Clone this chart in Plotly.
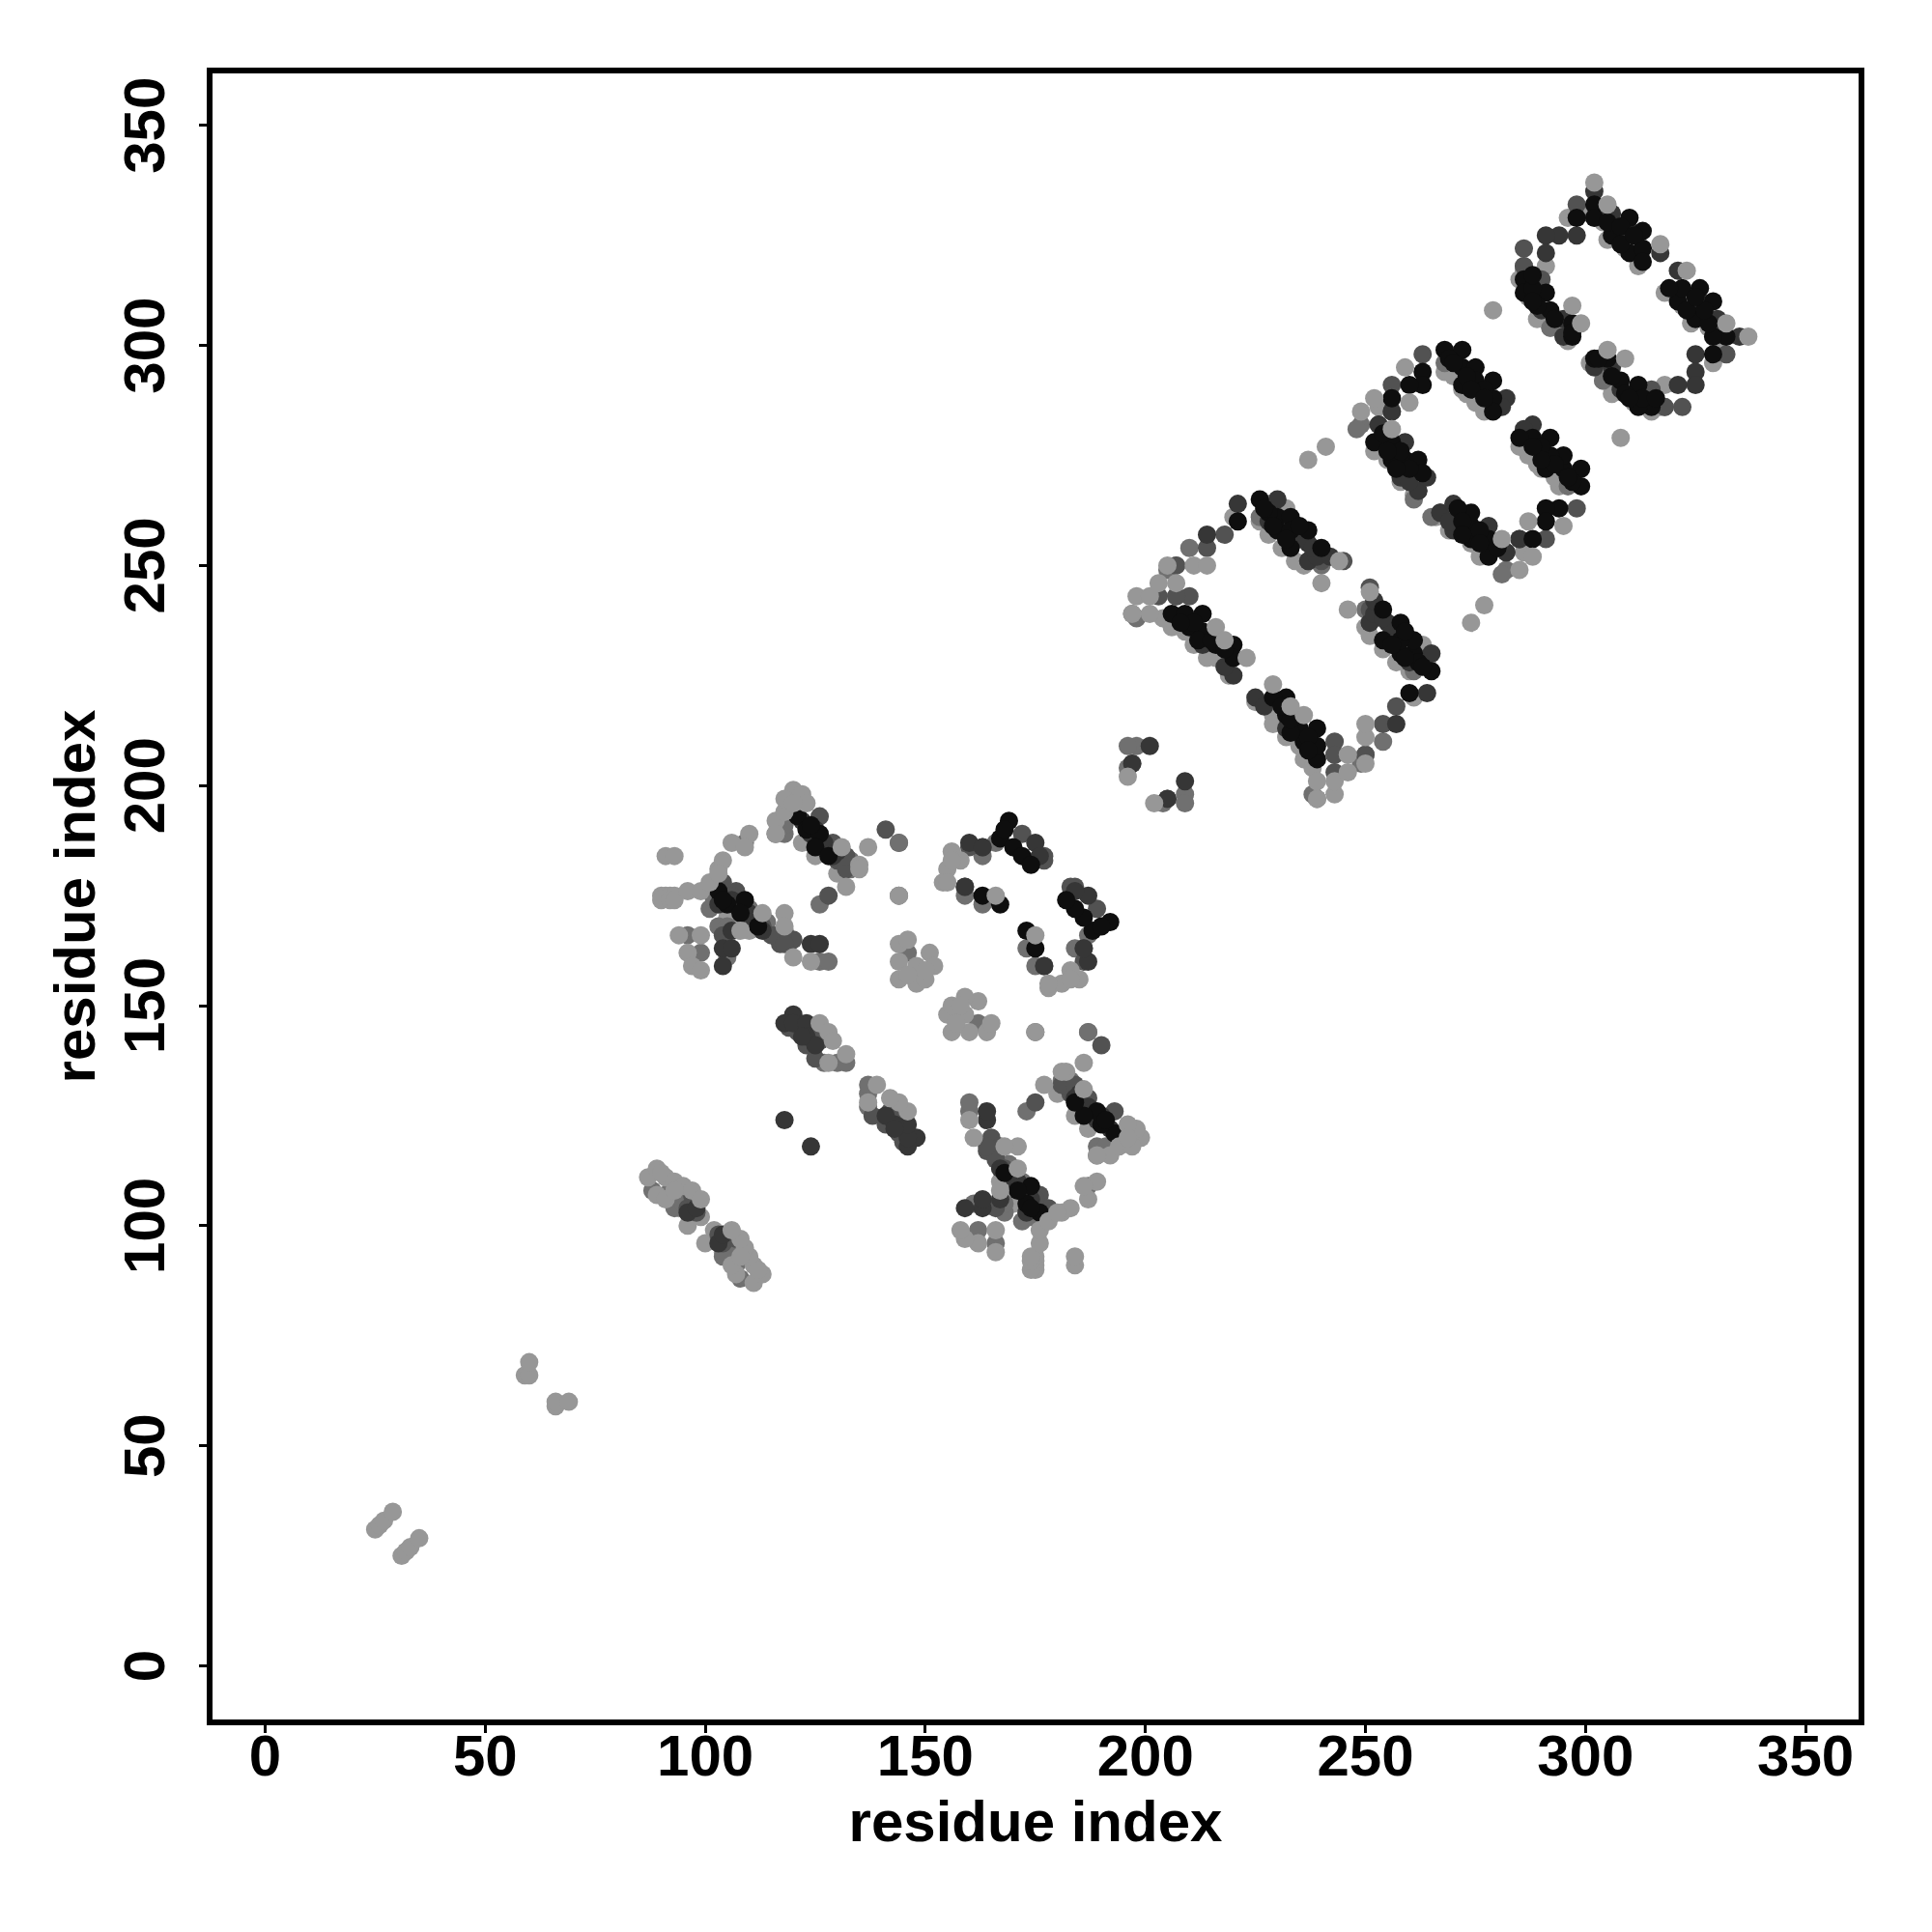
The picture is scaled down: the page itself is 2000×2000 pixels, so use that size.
import plotly.graph_objects as go

# contact pairs (i, j) with i < j; the map is symmetric, each pair is drawn at (i, j) and (j, i)
light_back = [(285,315),(296,329),(305,324),(296,301),(286,317),(311,322),(291,318),(292,304),(252,276),(253,286),
 (261,266),(272,290),(275,287),(268,294),(236,250),(219,225),(216,229),(209,235),(226,260),(220,261),(233,256),
 (105,170),(110,167),(108,168),(122,187),(125,184),(130,180),(96,100),(99,102),(94,104),(287,311),(289,306),(295,303),
 (307,326),(309,322),(312,318),(255,274),(258,269),(254,277),(270,293),(273,289),(277,285),(206,236),(211,232),(214,229),
 (228,257),(231,254),(234,251),(228,264),(233,255),(204,238),(232,263),(218,228),(301,330),(304,328),(270,297)]
mid = [(286,318),(249,282),(248,281),(261,265),(292,304),(268,296),(226,261),(240,250),(198,238),(197,239),(198,209),
 (196,209),(197,205),(196,204),(207,243),(210,254),(207,250),(205,249),(144,187),(126,173),(163,184),(166,187),
 (159,175),(163,173),(118,189),(118,191),(116,189),(110,172),(114,169),(133,183),(133,181),(126,160),(128,160),
 (96,166),(99,162),(146,162),(109,187),(127,137),(130,137),(132,137),(175,144),(187,144),(92,106),(95,106),(88,108),
 (103,168),(105,161),(105,168),(101,172),(102,174),(93,104),(91,107),(93,107),(95,105)]
dmid = [(298,332),(286,322),(290,315),(286,318),(263,298),(256,291),(253,282),(256,285),(262,267),(245,251),(240,251),
 (237,251),(203,243),(210,243),(207,243),(218,257),(214,254),(207,250),(141,190),(128,175),(160,186),(172,189),
 (177,184),(177,183),(159,177),(129,187),(126,193),(130,183),(116,166),(120,165),(117,164),(104,166),(118,167),
 (107,176),(104,178),(106,175),(121,146),(123,141),(125,138),(98,105),(96,104),(98,103),(97,107),(163,186),
 (131,183),(132,181),(113,168),(115,166),(118,164),(132,184),(119,145),(121,144),(124,143),(126,142)]
dark = [(302,335),(298,325),(294,325),(291,325),(291,321),(290,308),(306,330),(310,326),(317,321),(259,278),(258,270),
 (262,267),(253,282),(282,288),(256,285),(221,264),(214,257),(213,232),(220,225),(230,265),(237,255),(237,251),
 (201,209),(197,205),(160,187),(163,186),(175,187),(159,177),(176,184),(118,124),(104,163),(106,163),(104,159),
 (124,164),(126,164),(106,167),(120,148),(118,146),(120,146),(123,146),(123,143),(125,141),(122,143),(124,189),
 (127,186),(129,184),(107,173),(109,171),(111,170),(96,103),(98,104),(228,260),(235,256),(239,252),
 (304,331),(309,326),(295,306),(295,302),(264,270),(260,269),(281,286),(218,227),(242,252),(238,254),
 (122,192),(125,190),(127,187),(130,185),(103,173),(106,174),(110,171),(113,167)]
black = [(298,329),(286,315),(286,312),(291,312),(292,308),(297,305),(297,302),(297,303),(302,332),(302,329),(310,329),
 (306,325),(313,326),(310,321),(313,322),(313,319),(288,313),(289,309),(263,294),(263,291),(260,291),(256,288),
 (256,278),(256,274),(259,274),(262,274),(263,271),(252,278),(254,280),(258,276),(260,272),(268,299),(272,299),
 (272,295),(275,295),(272,291),(275,292),(279,292),(279,288),(279,285),(269,297),(273,293),(277,290),(206,239),
 (209,239),(213,239),(213,235),(210,236),(216,232),(220,232),(220,229),(226,265),(230,261),(233,261),(230,258),
 (233,258),(237,258),(233,254),(240,254),(221,260),(211,237),(228,262),(167,188),(169,192),(163,175),(167,173),
 (170,186),(172,184),(174,182),(168,190),(121,193),(123,190),(126,189),(125,186),(128,184),(124,191),(103,176),
 (105,173),(109,174),(108,171),(112,168),(104,174),(305,328),(308,327),(308,323),(311,325),(288,310),(288,316),
 (293,306),(257,272),(255,276),(270,296),(274,290),(277,288),(208,237),(212,233),(215,233),(218,231),(229,259),
 (232,256),(235,259),(227,263)]
light_top = [(302,337),(305,332),(297,309),(299,305),(317,323),(252,288),(249,285),(260,287),(259,295),(256,281),
 (216,236),(218,233),(223,229),(244,251),(240,246),(198,243),(201,243),(197,239),(201,239),
 (207,246),(205,250),(211,250),(214,250),(203,246),(196,202),(237,274),(241,277),(279,308),
 (91,184),(93,184),(90,175),(91,175),(92,175),(93,175),(90,174),(92,174),(93,174),(96,176),(99,176),
 (101,178),(103,181),(104,183),(103,180),(106,187),(110,189),(109,186),(116,192),(116,189),(118,194),(120,199),
 (118,197),(122,198),(123,196),(120,196),(131,186),(135,182),(135,181),(132,177),(137,186),(144,175),
 (113,171),(108,167),(118,171),(118,168),(120,161),(124,160),(94,166),(99,166),(96,162),(97,159),(99,158),
 (144,164),(146,165),(144,160),(144,156),(148,159),(148,155),(150,156),(151,162),(152,159),(150,158),(146,157),
 (156,185),(155,181),(154,178),(155,178),(158,183),(156,183),(166,175),
 (126,146),(128,144),(129,142),(132,139),(128,137),(87,111),(89,113),(91,111),(90,112),(93,110),(95,109),(97,108),
 (89,107),(91,106),(93,108),(99,106),
 (25,31),(26,32),(27,33),(29,35),(59,66),(60,66),(60,69)]

layers = [(light_back, "#979797"), (mid, "#707070"), (dmid, "#525252"), (dark, "#363636"), (black, "#0e0e0e"), (light_top, "#979797")]
tick_vals = [0, 50, 100, 150, 200, 250, 300, 350]

fig = go.Figure()
for pts, col in layers:
    xs = [p[0] for p in pts] + [p[1] for p in pts]
    ys = [p[1] for p in pts] + [p[0] for p in pts]
    fig.add_trace(go.Scatter(x=xs, y=ys, mode="markers", showlegend=False,
                             marker=dict(size=19, color=col, line=dict(width=0))))

axis = dict(showgrid=False, zeroline=False, showline=True, mirror=True, linecolor="black", linewidth=6,
            ticks="outside", ticklen=8, tickwidth=3, tickcolor="black",
            tickvals=tick_vals, ticktext=[str(v) for v in tick_vals],
            tickfont=dict(family="Liberation Sans", size=60, color="black", weight="bold"))
fig.update_layout(
    width=2000, height=2000, autosize=False, paper_bgcolor="white", plot_bgcolor="white",
    margin=dict(l=220, r=76, t=76, b=220),
    xaxis=dict(range=[-11.96, 362.05], ticklabelstandoff=-28,
               title=dict(text="<b>residue index</b>", font=dict(family="Liberation Sans", size=60, color="black"), standoff=16), **axis),
    yaxis=dict(range=[-12.18, 361.8], tickangle=-90, ticklabelstandoff=12, ticklabelshift=9,
               title=dict(text="<b>residue index</b>", font=dict(family="Liberation Sans", size=60, color="black"), standoff=0), **axis),
)
fig.write_html("out.html", post_script="document.body.style.margin='0';", config={"displayModeBar": False})
